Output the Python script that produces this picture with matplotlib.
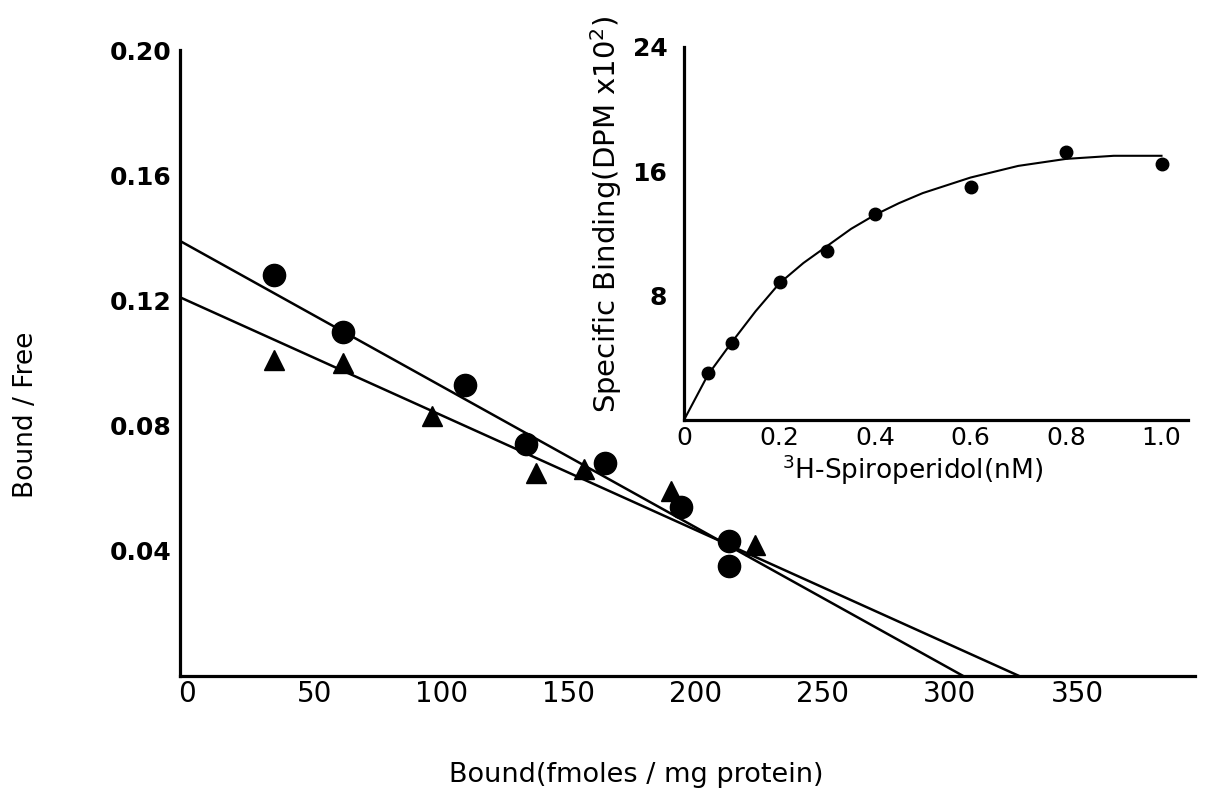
import matplotlib
matplotlib.use("Agg")
import matplotlib.pyplot as plt
from matplotlib.transforms import ScaledTranslation

plt.rcParams['font.family'] = ['DejaVu Sans']

# ---- Main Scatchard plot data ----
circle_x = [37, 64, 112, 136, 167, 197, 216, 216]
circle_y = [0.128, 0.110, 0.093, 0.074, 0.068, 0.054, 0.043, 0.035]
tri_x = [37, 64, 99, 140, 159, 193, 226]
tri_y = [0.101, 0.100, 0.083, 0.065, 0.066, 0.059, 0.042]
# regression lines: (y-intercept, x-intercept)
line_circ = (0.139, 308)
line_tri = (0.121, 330)
main_xticks = [0, 50, 100, 150, 200, 250, 300, 350]
main_yticks = [0.04, 0.08, 0.12, 0.16, 0.20]
main_yticklabels = ['0.04', '0.08', '0.12', '0.16', '0.20']

# ---- Inset saturation data ----
ins_x = [0.05, 0.1, 0.2, 0.3, 0.4, 0.6, 0.8, 1.0]
ins_y = [3.0, 4.95, 8.9, 10.9, 13.25, 15.0, 17.25, 16.5]
curve_x = [0, 0.05, 0.1, 0.15, 0.2, 0.25, 0.3, 0.35, 0.4, 0.45, 0.5, 0.6, 0.7, 0.8, 0.9, 1.0]
curve_y = [0, 2.9, 5.0, 7.0, 8.8, 10.1, 11.2, 12.3, 13.2, 13.95, 14.6, 15.6, 16.35, 16.8, 17.0, 17.0]
ins_xticks = [0, 0.2, 0.4, 0.6, 0.8, 1.0]
ins_xticklabels = ['0', '0.2', '0.4', '0.6', '0.8', '1.0']
ins_yticks = [8, 16, 24]

W, H = 1206, 795
fig = plt.figure(figsize=(W / 100, H / 100), dpi=100)

def px_axes(l, r, t, b):
    return [l / W, 1 - b / H, (r - l) / W, (b - t) / H]

ax = fig.add_axes(px_axes(180, 1195, 50, 676))
ax.set_xlim(0, (1195 - 180) / 2.543)
ax.set_ylim(0, 0.2)
for s in ['top', 'right']:
    ax.spines[s].set_visible(False)
for s in ['left', 'bottom']:
    ax.spines[s].set_linewidth(2.3)

ax.plot([0, line_circ[1]], [line_circ[0], 0], color='black', lw=1.8, solid_capstyle='butt')
ax.plot([0, line_tri[1]], [line_tri[0], 0], color='black', lw=1.8, solid_capstyle='butt')
ax.plot(circle_x, circle_y, 'o', color='black', ms=16, clip_on=False)
ax.plot(tri_x, tri_y, '^', color='black', ms=14, clip_on=False)

ax.set_xticks(main_xticks)
ax.set_xticklabels([str(v) for v in main_xticks], fontsize=20)
ax.set_yticks(main_yticks)
ax.set_yticklabels(main_yticklabels, fontsize=18, fontweight='bold')
ax.tick_params(axis='both', length=0)
ax.tick_params(axis='x', pad=3)
ax.tick_params(axis='y', pad=6)
off = ScaledTranslation(7 / 100, 0, fig.dpi_scale_trans)
for lab in ax.get_xticklabels():
    lab.set_transform(lab.get_transform() + off)

fig.text(26 / W, 1 - 415 / H, 'Bound / Free', rotation=90, ha='center', va='center', fontsize=19)
fig.text(636 / W, 1 - 775 / H, 'Bound(fmoles / mg protein)', ha='center', va='center', fontsize=19.5)

# ---- Inset ----
ins = fig.add_axes(px_axes(684, 1188, 47, 420))
ins.set_facecolor('none')
ins.set_xlim(0, (1188 - 684) / 477.5)
ins.set_ylim(0, 24)
for s in ['top', 'right']:
    ins.spines[s].set_visible(False)
for s in ['left', 'bottom']:
    ins.spines[s].set_linewidth(2.3)
ins.plot(curve_x, curve_y, color='black', lw=1.5)
ins.plot(ins_x, ins_y, 'o', color='black', ms=9, clip_on=False)
ins.set_xticks(ins_xticks)
ins.set_xticklabels(ins_xticklabels, fontsize=18)
ins.set_yticks(ins_yticks)
ins.set_yticklabels([str(v) for v in ins_yticks], fontsize=18, fontweight='bold')
ins.tick_params(axis='both', length=0)
ins.tick_params(axis='x', pad=4)
ins.tick_params(axis='y', pad=12)

fig.text(606 / W, 1 - 214 / H, 'Specific Binding(DPM x10$^2$)', rotation=90,
         ha='center', va='center', fontsize=21)
fig.text(913 / W, 1 - 470 / H, '$^3$H-Spiroperidol(nM)', ha='center', va='center', fontsize=19)

fig.savefig('out.png', dpi=100)
